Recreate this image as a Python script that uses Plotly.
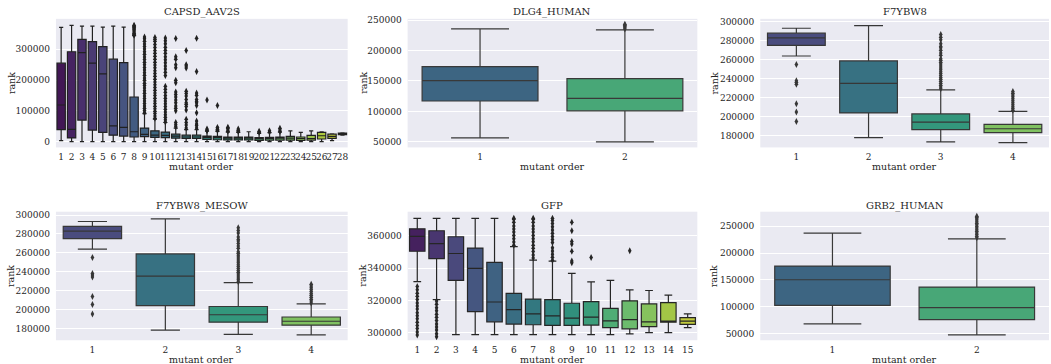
import colorsys
import plotly.graph_objects as go

# ---------------- data ----------------
CAPSD_CATS = [str(i) for i in range(1, 29)]
CAPSD_Q1 = [38600, 12000, 70000, 37500, 30000, 21000, 18000, 15000, 16000, 14000, 13000, 11000, 10000, 10000,
            7500, 6000, 5500, 5500, 5500, 4000, 4500, 5000, 4500, 4000, 5000, 8500, 10600, 22500]
CAPSD_MED = [119000, 40000, 289000, 255000, 220000, 51000, 46000, 32000, 23600, 21000, 20000, 18000, 15000, 15000,
             14000, 13000, 11000, 11000, 11000, 10000, 10000, 11000, 11000, 10000, 10000, 19000, 17000, 25000]
CAPSD_Q3 = [255000, 292000, 332000, 325000, 309000, 268000, 257000, 145000, 44000, 35000, 31000, 24000, 21000, 21000,
            18000, 17000, 15000, 15000, 15000, 13000, 14000, 15000, 17000, 15000, 20000, 30000, 24000, 27600]
CAPSD_LO = [3000, 0, 0, 0, 0, 0, 0, 0, 0, 0, 0, 0, 0, 0,
            0, 0, 0, 0, 0, 0, 0, 0, 0, 0, 0, 0, 3000, 21000]
CAPSD_HI = [371000, 378000, 375000, 375000, 372000, 375000, 372000, 344000, 91000, 73000, 62000, 44000, 39000, 39000,
            34000, 33000, 31000, 30000, 32000, 27000, 29000, 31000, 35000, 30000, 35000, 32000, 25000, 28500]
CAPSD_OUT = {
    "8": [346000, 349000, 352000, 356000, 360000, 364000, 368000, 372000, 375000, 378000],
    "9": [94000, 101000, 108000, 116000, 124000, 132000, 140000, 148000, 157000, 165000, 174000, 182000, 190000,
          199000, 207000, 216000, 224000, 233000, 241000, 250000, 258000, 267000, 275000, 284000, 292000, 301000,
          309000, 317000, 326000, 334000, 340000],
    "10": [76000, 83000, 91000, 99000, 107000, 115000, 124000, 132000, 141000, 150000, 158000, 167000, 176000,
           185000, 194000, 203000, 212000, 221000, 230000, 240000, 249000, 258000, 268000, 277000, 287000, 296000,
           306000, 316000, 326000, 333000, 338000],
    "11": [64000, 71000, 79000, 87000, 96000, 105000, 114000, 123000, 132000, 141000, 150000, 160000, 170000,
           180000, 215000, 225000, 236000, 246000, 256000, 266000, 276000, 287000, 297000, 307000, 318000, 328000,
           337000],
    "12": [48000, 55000, 62000, 100000, 108000, 116000, 126000, 135000, 145000, 153000, 161000, 191000, 199000,
           240000, 250000, 268000, 276000, 335000],
    "13": [44000, 54000, 62000, 73000, 103000, 114000, 121000, 126000, 137000, 148000, 156000, 164000, 239000,
           246000, 250000, 296000],
    "14": [44000, 52000, 57000, 67000, 94000, 117000, 126000, 130000, 137000, 151000, 158000, 228000, 336000],
    "15": [35000, 38000, 41000, 135000],
    "16": [36000, 40000, 44000, 46000, 117000],
    "17": [34000, 38000, 43000, 47000],
    "18": [33000, 37000, 41000],
    "20": [30000, 34000],
    "21": [31000, 35000],
    "22": [33000, 38000, 43000],
}

DLG4_CATS = ["1", "2"]
DLG4_Q1 = [117200, 101100]
DLG4_MED = [150500, 121500]
DLG4_Q3 = [173700, 153800]
DLG4_LO = [56500, 50000]
DLG4_HI = [235500, 233900]
DLG4_OUT = {"2": [235500, 237500, 239500, 241500, 243000]}

F7_CATS = ["1", "2", "3", "4"]
F7_Q1 = [275100, 204200, 186600, 183500]
F7_MED = [283000, 235300, 194500, 187600]
F7_Q3 = [287900, 258800, 203200, 192100]
F7_LO = [264000, 178300, 173800, 173100]
F7_HI = [293100, 295800, 228400, 205900]
F7_OUT = {
    "1": [195200, 205200, 213900, 234300, 236400, 238100, 255000],
    "3": [229500, 231500, 233400, 235500, 237600, 239500, 241400, 243500, 245600, 247500, 249500, 251400,
          253500, 255600, 257400, 259500, 261200, 264700, 267100, 269900, 272600, 274000, 276800, 281000,
          283700, 286500],
    "4": [207000, 208900, 210800, 212900, 215000, 216900, 219000, 221100, 223000, 225000, 226700],
}

MESOW_CATS = ["1", "2", "3", "4"]
MESOW_Q1 = [275100, 204200, 186600, 183500]
MESOW_MED = [283000, 235300, 194500, 187600]
MESOW_Q3 = [287900, 258800, 203200, 192100]
MESOW_LO = [264000, 178300, 173800, 173100]
MESOW_HI = [293100, 295800, 228400, 205900]
MESOW_OUT = {
    "1": [195200, 205200, 213900, 234300, 236400, 238100, 255000],
    "3": [229500, 231500, 233400, 235500, 237600, 239500, 241400, 243500, 245600, 247500, 249500, 251400,
          253500, 255600, 257400, 259500, 261200, 264700, 267100, 269900, 272600, 274000, 276800, 281000,
          283700, 286500],
    "4": [207000, 208900, 210800, 212900, 215000, 216900, 219000, 221100, 223000, 225000, 226700],
}

GFP_CATS = [str(i) for i in range(1, 16)]
GFP_Q1 = [350400, 345900, 332400, 313000, 306700, 305300, 304900, 304500, 304500, 304700, 303100, 302400,
          303700, 306500, 305100]
GFP_MED = [359600, 355100, 349000, 339800, 319000, 314300, 311600, 310400, 309000, 309600, 307300, 308100,
           306700, 306800, 307200]
GFP_Q3 = [364300, 363100, 359400, 352400, 343500, 324300, 320800, 320400, 318200, 319200, 315100, 319700,
          317800, 318600, 309300]
GFP_LO = [331600, 320400, 298800, 298800, 298800, 298800, 298800, 298800, 298800, 298800, 298800, 299300,
          300000, 300000, 303100]
GFP_HI = [370800, 370800, 370800, 370800, 370800, 353300, 344900, 344300, 336700, 331500, 332400, 326500,
          326100, 323300, 311600]
GFP_OUT = {
    "1": [298500, 300400, 302600, 304500, 306400, 308600, 310500, 312400, 314600, 316500, 318400, 320600,
          322500, 324400, 326600, 328600],
    "2": [297500, 299400, 301600, 303500, 305400, 307600, 309500, 311400, 313600, 315500, 317600, 319600],
    "6": [354200, 356100, 358200, 360100, 362300, 364200, 366100, 368300, 370200, 370800],
    "7": [346200, 348100, 350300, 352200, 354100, 356300, 358200, 360100, 362300, 364200, 366100, 368300,
          370200, 370800],
    "8": [344800, 346700, 348600, 350600, 352500, 355800, 357700, 359600, 361600, 363500, 365500, 367600,
          369500, 370800],
    "9": [343300, 344300, 350400, 354900, 356500, 363100, 368400],
    "10": [346500],
    "12": [350700],
}

GRB2_CATS = ["1", "2"]
GRB2_Q1 = [102600, 76000]
GRB2_MED = [150300, 98300]
GRB2_Q3 = [175700, 136700]
GRB2_LO = [68000, 47500]
GRB2_HI = [237000, 226500]
GRB2_OUT = {"2": [228500, 231500, 234500, 237500, 240500, 243500, 246500, 249500, 252500, 255500, 258500,
                  261500, 264000, 266500, 268500]}

TITLES = ["CAPSD_AAV2S", "DLG4_HUMAN", "F7YBW8", "F7YBW8_MESOW", "GFP", "GRB2_HUMAN"]
Y_RANGES = [(-18900, 399000), (41000, 252000), (168000, 303000), (167500, 303500), (295300, 374900), (37600, 277000)]
Y_TICKS = [
    [0, 100000, 200000, 300000],
    [50000, 100000, 150000, 200000, 250000],
    [180000, 200000, 220000, 240000, 260000, 280000, 300000],
    [180000, 200000, 220000, 240000, 260000, 280000, 300000],
    [300000, 320000, 340000, 360000],
    [50000, 100000, 150000, 200000, 250000],
]

# ---------------- style ----------------
FONT = "DejaVu Serif"
TEXT = "#262626"
BG = "#EAEAF2"
W, H = 1051, 364
COL_PX = [(56, 348), (408, 698), (761, 1050)]
ROW_PX = [(15, 145), (210, 340)]
YLABEL_X = [11, 363, 715]
TITLE_Y = [8, 204]
XLABEL_Y = [164, 359]

VIRIDIS = ["#440154", "#482475", "#414487", "#355f8d", "#2a788e", "#21918c",
           "#22a884", "#44bf70", "#7ad151", "#bddf26", "#fde725"]


def hex_rgb(h):
    h = h.lstrip("#")
    return [int(h[i:i + 2], 16) / 255 for i in (0, 2, 4)]


def viridis_at(t):
    pos = t * (len(VIRIDIS) - 1)
    i = min(int(pos), len(VIRIDIS) - 2)
    f = pos - i
    a, b = hex_rgb(VIRIDIS[i]), hex_rgb(VIRIDIS[i + 1])
    return [a[k] + (b[k] - a[k]) * f for k in range(3)]


def palette(n, sat=0.75):
    out = []
    for i in range(n):
        r, g, b = viridis_at((i + 1) / (n + 1))
        h, l, s = colorsys.rgb_to_hls(r, g, b)
        out.append(colorsys.hls_to_rgb(h, l, s * sat))
    return out


def to_css(c):
    return "rgb(%d,%d,%d)" % tuple(round(v * 255) for v in c)


panels = [
    (CAPSD_CATS, CAPSD_Q1, CAPSD_MED, CAPSD_Q3, CAPSD_LO, CAPSD_HI, CAPSD_OUT),
    (DLG4_CATS, DLG4_Q1, DLG4_MED, DLG4_Q3, DLG4_LO, DLG4_HI, DLG4_OUT),
    (F7_CATS, F7_Q1, F7_MED, F7_Q3, F7_LO, F7_HI, F7_OUT),
    (MESOW_CATS, MESOW_Q1, MESOW_MED, MESOW_Q3, MESOW_LO, MESOW_HI, MESOW_OUT),
    (GFP_CATS, GFP_Q1, GFP_MED, GFP_Q3, GFP_LO, GFP_HI, GFP_OUT),
    (GRB2_CATS, GRB2_Q1, GRB2_MED, GRB2_Q3, GRB2_LO, GRB2_HI, GRB2_OUT),
]

fig = go.Figure()
layout = dict(
    width=W, height=H, margin=dict(l=0, r=0, t=0, b=0),
    paper_bgcolor="white", plot_bgcolor=BG, showlegend=False, boxmode="overlay",
    font=dict(family=FONT, color=TEXT, size=9),
)
annotations = []

for k, (cats, q1, med, q3, lo, hi, outl) in enumerate(panels):
    idx = "" if k == 0 else str(k + 1)
    r, c = divmod(k, 3)
    x0, x1 = COL_PX[c]
    y0, y1 = ROW_PX[r]
    cols = palette(len(cats))
    lum = min(colorsys.rgb_to_hls(*cc)[1] for cc in cols) * 0.6
    gray = to_css((lum, lum, lum))
    xa, ya = "x" + idx, "y" + idx
    for i, cat in enumerate(cats):
        fig.add_trace(go.Box(
            x=[cat], q1=[q1[i]], median=[med[i]], q3=[q3[i]], lowerfence=[lo[i]], upperfence=[hi[i]],
            width=0.8, whiskerwidth=0.5, boxpoints=False, fillcolor=to_css(cols[i]),
            line=dict(color=gray, width=1.2), xaxis=xa, yaxis=ya, hoverinfo="skip",
        ))
    for cat, vals in outl.items():
        fig.add_trace(go.Scatter(
            x=[cat] * len(vals), y=vals, mode="markers", xaxis=xa, yaxis=ya, hoverinfo="skip",
            marker=dict(symbol="diamond-tall", size=5, color=gray, line=dict(width=0)),
        ))
    layout["xaxis" + idx] = dict(
        domain=[x0 / W, x1 / W], anchor=ya, type="category", range=[-0.5, len(cats) - 0.5],
        tickmode="array", tickvals=cats, ticktext=cats, tickangle=0, showgrid=False, zeroline=False,
        showline=False, ticks="", tickfont=dict(size=9, color=TEXT, family=FONT), ticklabelstandoff=3,
    )
    layout["yaxis" + idx] = dict(
        domain=[1 - y1 / H, 1 - y0 / H], anchor=xa, range=list(Y_RANGES[k]), tickmode="array",
        tickvals=Y_TICKS[k], tickformat="d", showgrid=True, gridcolor="white", gridwidth=1,
        zeroline=False, showline=False, ticks="", tickfont=dict(size=9, color=TEXT, family=FONT),
        ticklabelstandoff=5,
    )
    annotations.append(dict(text=TITLES[k], xref="paper", yref="paper", x=(x0 + x1) / 2 / W,
                            y=1 - TITLE_Y[r] / H, xanchor="center", yanchor="middle", showarrow=False,
                            font=dict(size=10, family=FONT, color=TEXT)))
    annotations.append(dict(text="mutant order", xref="paper", yref="paper", x=(x0 + x1) / 2 / W,
                            y=1 - XLABEL_Y[r] / H, xanchor="center", yanchor="middle", showarrow=False,
                            font=dict(size=9.5, family=FONT, color=TEXT)))
    annotations.append(dict(text="rank", xref="paper", yref="paper", x=YLABEL_X[c] / W,
                            y=1 - (y0 + y1) / 2 / H, xanchor="center", yanchor="middle", showarrow=False,
                            textangle=-90, font=dict(size=9.5, family=FONT, color=TEXT)))

layout["annotations"] = annotations
fig.update_layout(**layout)
# remove the browser's default 8px body margin so the figure fills the window exactly
fig.write_html("out.html", config={"displayModeBar": False},
               post_script="document.body.style.margin='0';")
